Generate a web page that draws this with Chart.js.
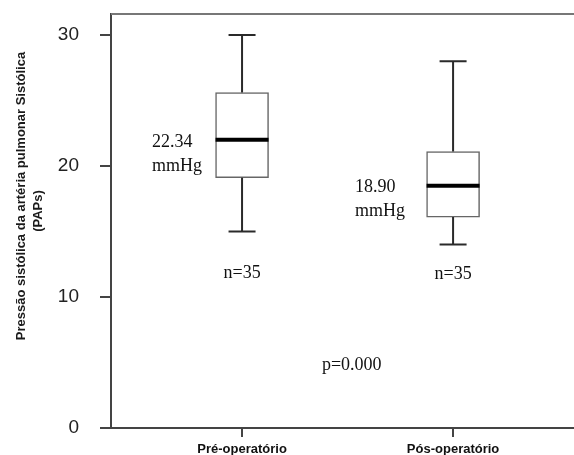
<!DOCTYPE html>
<html>
<head>
<meta charset="utf-8">
<script src="https://cdn.jsdelivr.net/npm/chart.js@4.4.1/dist/chart.umd.min.js"></script>
<style>
  html, body { margin: 0; padding: 0; background: #fff; }
  #wrap { width: 574px; height: 455px; position: relative; }
</style>
</head>
<body>
<div id="wrap"><canvas id="box_chart"></canvas></div>
<script>
// groups and box values (mmHg)
const groups = ['Pré-operatório', 'Pós-operatório'];
const xPositions = [1, 2];
const minValues = [15, 14];
const q1Values = [19.1, 16.1];
const medianValues = [22.0, 18.5];
const q3Values = [25.6, 21.1];
const maxValues = [30, 28];

const meanLabels = ['22.34', '18.90'];
const nLabels = ['n=35', 'n=35'];
const nLabelY = [11.8, 11.7];
const pLabel = 'p=0.000';
const pLabelPos = [1.52, 4.8];

const yTicks = [0, 10, 20, 30];
const yTitle = ['Pressão sistólica da artéria pulmonar Sistólica', '(PAPs)'];

// whiskers, medians, top frame line and the text notes
const boxExtras = {
    id: 'boxExtras',
    afterDatasetsDraw: function(chart) {
        const ctx = chart.ctx;
        const xs = chart.scales.x;
        const ys = chart.scales.y;
        const area = chart.chartArea;

        ctx.save();
        // top frame line
        ctx.strokeStyle = '#777';
        ctx.lineWidth = 2;
        ctx.beginPath();
        ctx.moveTo(area.left, area.top);
        ctx.lineTo(area.right, area.top);
        ctx.stroke();

        const labelDx = [-90, -98];
        groups.forEach(function(g, i) {
            const x = xs.getPixelForValue(xPositions[i]);
            const yMin = ys.getPixelForValue(minValues[i]);
            const yQ1 = ys.getPixelForValue(q1Values[i]);
            const yMed = ys.getPixelForValue(medianValues[i]);
            const yQ3 = ys.getPixelForValue(q3Values[i]);
            const yMax = ys.getPixelForValue(maxValues[i]);

            ctx.strokeStyle = '#2a2a2a';
            ctx.lineWidth = 2;
            ctx.beginPath();
            ctx.moveTo(x, yQ3); ctx.lineTo(x, yMax);
            ctx.moveTo(x, yQ1); ctx.lineTo(x, yMin);
            ctx.moveTo(x - 13.5, yMax); ctx.lineTo(x + 13.5, yMax);
            ctx.moveTo(x - 13.5, yMin); ctx.lineTo(x + 13.5, yMin);
            ctx.stroke();

            ctx.strokeStyle = '#000';
            ctx.lineWidth = 4;
            ctx.beginPath();
            ctx.moveTo(x - 26.5, yMed); ctx.lineTo(x + 26.5, yMed);
            ctx.stroke();

            ctx.fillStyle = '#111';
            ctx.font = '18px "Liberation Serif"';
            ctx.textBaseline = 'middle';
            ctx.textAlign = 'left';
            ctx.fillText(meanLabels[i], x + labelDx[i], yMed + 2);
            ctx.fillText('mmHg', x + labelDx[i], yMed + 26);

            ctx.textAlign = 'center';
            ctx.fillText(nLabels[i], x, ys.getPixelForValue(nLabelY[i]));
        });

        ctx.textAlign = 'center';
        ctx.fillText(pLabel, xs.getPixelForValue(pLabelPos[0]), ys.getPixelForValue(pLabelPos[1]));

        // y axis title
        ctx.font = 'bold 13px "Liberation Sans"';
        ctx.fillStyle = '#1a1a1a';
        ctx.translate(21, 196);
        ctx.rotate(-Math.PI / 2);
        ctx.fillText(yTitle[0], 0, 0);
        ctx.fillText(yTitle[1], -15, 17);
        ctx.restore();
    }
};

new Chart(document.getElementById('box_chart').getContext('2d'), {
    type: 'bar',
    data: {
        datasets: [{
            label: 'IQR',
            data: groups.map((g, i) => ({ x: xPositions[i], y: [q1Values[i], q3Values[i]] })),
            backgroundColor: '#fff',
            borderColor: '#666',
            borderWidth: 1.5,
            borderSkipped: false,
            barThickness: 53
        }]
    },
    options: {
        responsive: true,
        maintainAspectRatio: false,
        animation: false,
        layout: { padding: { top: 14, right: 0, bottom: 0, left: 0 } },
        plugins: {
            legend: { display: false },
            tooltip: { enabled: false }
        },
        scales: {
            x: {
                type: 'linear',
                min: 0.379,
                max: 2.573,
                offset: false,
                afterBuildTicks: s => { s.ticks = xPositions.map(v => ({ value: v })); },
                afterFit: s => { s.height = 27; s.paddingLeft = 0; s.paddingRight = 0; },
                grid: { drawOnChartArea: false, offset: false, tickLength: 9, color: '#444', lineWidth: 2 },
                border: { color: '#444', width: 2 },
                ticks: {
                    autoSkip: false,
                    maxRotation: 0,
                    padding: 5,
                    color: '#111',
                    font: { family: 'Liberation Sans', size: 13, weight: 'bold' },
                    callback: (v, i) => groups[i]
                }
            },
            y: {
                min: 0,
                max: 31.6,
                afterBuildTicks: s => { s.ticks = yTicks.map(v => ({ value: v })); },
                afterFit: s => { s.width = 111; s.paddingTop = 0; s.paddingBottom = 0; },
                grid: { drawOnChartArea: false, tickLength: 11, color: '#444', lineWidth: 2 },
                border: { color: '#444', width: 2 },
                ticks: {
                    padding: 21,
                    color: '#222',
                    font: { family: 'Liberation Sans', size: 19 }
                }
            }
        }
    },
    plugins: [boxExtras]
});
</script>
</body>
</html>
